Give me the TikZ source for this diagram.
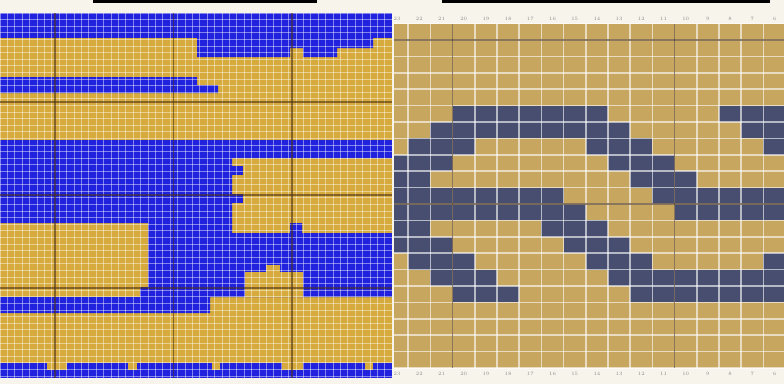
\documentclass[tikz,border=0pt]{standalone}
\usepackage{tikz}

\definecolor{chartblue}{RGB}{32,34,222}
\definecolor{chartgold}{RGB}{214,170,60}
\definecolor{cabletan}{RGB}{199,167,96}
\definecolor{cableslate}{RGB}{72,78,112}
\definecolor{paper}{RGB}{247,244,236}

\tikzset{
  fineline/.style={white, opacity=0.45, line width=0.9pt},
  cellline/.style={white, opacity=0.6, line width=1.6pt},
  tenline/.style={black!60!brown, opacity=0.6, line width=1.1pt},
  colnum/.style={font=\fontsize{5}{5}\selectfont, text=black!45, inner sep=0pt},
}

\begin{document}
\begin{tikzpicture}[x=1pt,y=-1pt]
\useasboundingbox (0,0) rectangle (784,384);
\fill[paper] (0,0) rectangle (784,384);
\fill[black] (93,0) rectangle (317,3);
\fill[black] (442,0) rectangle (770,3);

% left chart
\fill[chartgold] (0,13) rectangle (392,378);
\fill[chartblue] (0,13) rectangle (392,38);
\fill[chartblue] (197,38) -- (373,38) -- (373,48) -- (337,48) -- (337,57) -- (303,57)
  -- (303,48) -- (290,48) -- (290,57) -- (197,57) -- cycle;
\fill[chartblue] (0,77) -- (197,77) -- (197,85) -- (218,85) -- (218,93) -- (0,93) -- cycle;
\fill[chartblue] (0,140) -- (392,140) -- (392,158) -- (232,158) -- (232,233) -- (290,233)
  -- (290,223) -- (302,223) -- (302,233) -- (392,233) -- (392,297) -- (210,297)
  -- (210,313) -- (0,313) -- (0,297) -- (140,297) -- (140,287) -- (148,287)
  -- (148,223) -- (0,223) -- cycle;
\fill[chartblue] (232,166) rectangle (243,175);
\fill[chartblue] (232,194) rectangle (243,203);
\fill[chartgold] (245,272) rectangle (303,297);
\fill[chartgold] (266,265) rectangle (280,272);
\fill[chartblue] (0,363) rectangle (392,378);
\foreach \a/\b in {47/67, 128/137, 212/220, 282/303, 365/373}
  \fill[chartgold] (\a,363) rectangle (\b,370);
\foreach \i in {0,...,53}
  \draw[fineline] ({7.4*\i},13) -- ({7.4*\i},378);
\foreach \j in {0,...,55}
  \draw[fineline] (0,{13+6.6*\j}) -- (392,{13+6.6*\j});
\foreach \x in {55,173.5,292}
  \draw[tenline] (\x,13) -- (\x,378);
\foreach \y in {102,195,288}
  \draw[tenline] (0,\y) -- (392,\y);

% right chart
\begin{scope}
\clip (394,0) rectangle (784,384);
\fill[cabletan] (386,23.6) rectangle (786,368);
\foreach \r/\cs in {5/{3,4,5,6,7,8,9,15,16,17}, 6/{2,3,4,5,6,7,8,9,10,16,17},
    7/{1,2,3,9,10,11,17}, 8/{0,1,2,10,11,12}, 9/{0,1,11,12,13},
    10/{0,1,2,3,4,5,6,7,12,13,14,15,16,17}, 11/{0,1,2,3,4,5,6,7,8,13,14,15,16,17},
    12/{0,1,7,8,9}, 13/{0,1,2,8,9,10}, 14/{1,2,3,9,10,11,17},
    15/{2,3,4,10,11,12,13,14,15,16,17}, 16/{3,4,5,11,12,13,14,15,16,17}}
  \foreach \c in \cs
    \fill[cableslate] ({386+22.2*\c},{23.6+16.4*\r}) rectangle +(22.2,16.4);
\foreach \c in {0,...,18}
  \draw[cellline] ({386+22.2*\c},23.6) -- ({386+22.2*\c},368);
\foreach \r in {0,...,21}
  \draw[cellline] (386,{23.6+16.4*\r}) -- (786,{23.6+16.4*\r});
\draw[tenline, line width=1.5pt] (452.6,23.6) -- (452.6,368);
\draw[tenline, line width=1.5pt] (674.6,23.6) -- (674.6,368);
\draw[tenline, line width=1.5pt] (386,40) -- (786,40);
\draw[tenline, line width=1.5pt] (386,204) -- (786,204);
\foreach \c [evaluate=\c as \n using int(23-\c)] in {0,...,17} {
  \node[colnum] (top\n) at ({397.1+22.2*\c},19) {\n};
  \node[colnum] (bot\n) at ({397.1+22.2*\c},374) {\n};
}
\end{scope}
\fill[paper] (392,0) rectangle (394,384);
\end{tikzpicture}
\end{document}
